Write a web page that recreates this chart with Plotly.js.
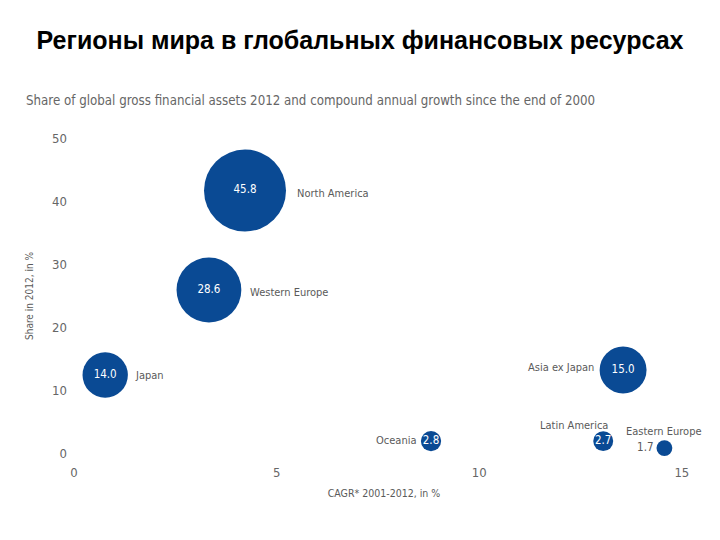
<!DOCTYPE html>
<html>
<head>
<meta charset="utf-8">
<script src="https://cdn.plot.ly/plotly-3.0.1.min.js"></script>
<style>html,body{margin:0;padding:0;background:#fff;}#chart{width:720px;height:540px;}</style>
</head>
<body>
<div id="chart"></div>
<script>
// Data
const regions = ["North America", "Western Europe", "Japan", "Asia ex Japan", "Oceania", "Latin America", "Eastern Europe"];
const cagr = [4.22, 3.33, 0.77, 13.55, 8.81, 13.06, 14.57];          // CAGR 2001-2012, in %
const share = [41.7, 25.9, 12.4, 13.2, 1.9, 1.9, 0.8];               // position on y axis
const shareValue = [45.8, 28.6, 14.0, 15.0, 2.8, 2.7, 1.7];          // bubble value (label)
const xTicks = [0, 5, 10, 15];
const yTicks = [0, 10, 20, 30, 40, 50];

// label placement (styles, not data)
const valuePos = ["middle center", "middle center", "middle center", "middle center", "middle center", "middle center", "middle left"];
const nameAnchor = ["left", "left", "left", "right", "right", "right", "center"];
const nameDx = [50, 39, 28, -27, -13, 7, 0];
const nameDy = [-3, -2, 0, 2, 1, 16, 17];

const blue = "#0a4a94";
const gray = "#5a5a5a";
const narrow = "'DejaVu Sans Condensed', 'Liberation Sans Narrow', sans-serif";
const maxD = 82;
const sizeref = 2 * Math.max(...shareValue) / (maxD * maxD);

const valueColors = valuePos.map(p => p === "middle center" ? "#ffffff" : gray);

const bubbles = {
  type: "scatter",
  mode: "markers+text",
  x: cagr, y: share,
  text: shareValue.map(v => v.toFixed(1)),
  textposition: valuePos,
  textfont: {family: narrow, size: 11.5, color: valueColors},
  marker: {size: shareValue, sizemode: "area", sizeref: sizeref, color: blue, opacity: 1, line: {width: 0}},
  hoverinfo: "skip",
  cliponaxis: false
};

const nameAnnotations = regions.map((name, i) => ({
  text: name, x: cagr[i], y: share[i], xref: "x", yref: "y",
  xanchor: nameAnchor[i], yanchor: "middle",
  xshift: nameDx[i], yshift: nameDy[i],
  showarrow: false, font: {family: narrow, size: 11, color: gray}
}));

const layout = {
  width: 720, height: 540,
  paper_bgcolor: "#fff", plot_bgcolor: "#fff",
  showlegend: false,
  margin: {l: 74, r: 26, t: 132, b: 80},
  title: {
    text: "<b>Регионы мира в глобальных финансовых ресурсах</b>",
    font: {family: "'Liberation Sans', Arial, sans-serif", size: 25, color: "#000"},
    x: 0.5, xanchor: "center", y: 0.925, yanchor: "middle", yref: "container"
  },
  xaxis: {
    range: [0, 15.3],
    tickvals: xTicks, ticktext: xTicks.map(String),
    showgrid: false, zeroline: false, showline: false, ticks: "",
    tickfont: {family: narrow, size: 13, color: "#666"},
    ticklabelstandoff: 3,
    title: {text: "CAGR* 2001-2012, in %", font: {family: narrow, size: 10.5, color: gray}, standoff: 10}
  },
  yaxis: {
    range: [-1.1, 51],
    tickvals: yTicks, ticktext: yTicks.map(String),
    showgrid: false, zeroline: false, showline: false, ticks: "",
    tickfont: {family: narrow, size: 13, color: "#666"},
    ticklabelstandoff: 6,
    title: {text: "Share in 2012, in %", font: {family: narrow, size: 10, color: gray}, standoff: 16}
  },
  annotations: [{
    text: "Share of global gross financial assets 2012 and compound annual growth since the end of 2000",
    xref: "paper", yref: "paper", x: -0.081, y: 1.095, xanchor: "left", yanchor: "middle",
    showarrow: false, font: {family: narrow, size: 13.2, color: "#666"}
  }].concat(nameAnnotations)
};

Plotly.newPlot("chart", [bubbles], layout, {displayModeBar: false, staticPlot: true});
</script>
</body>
</html>
